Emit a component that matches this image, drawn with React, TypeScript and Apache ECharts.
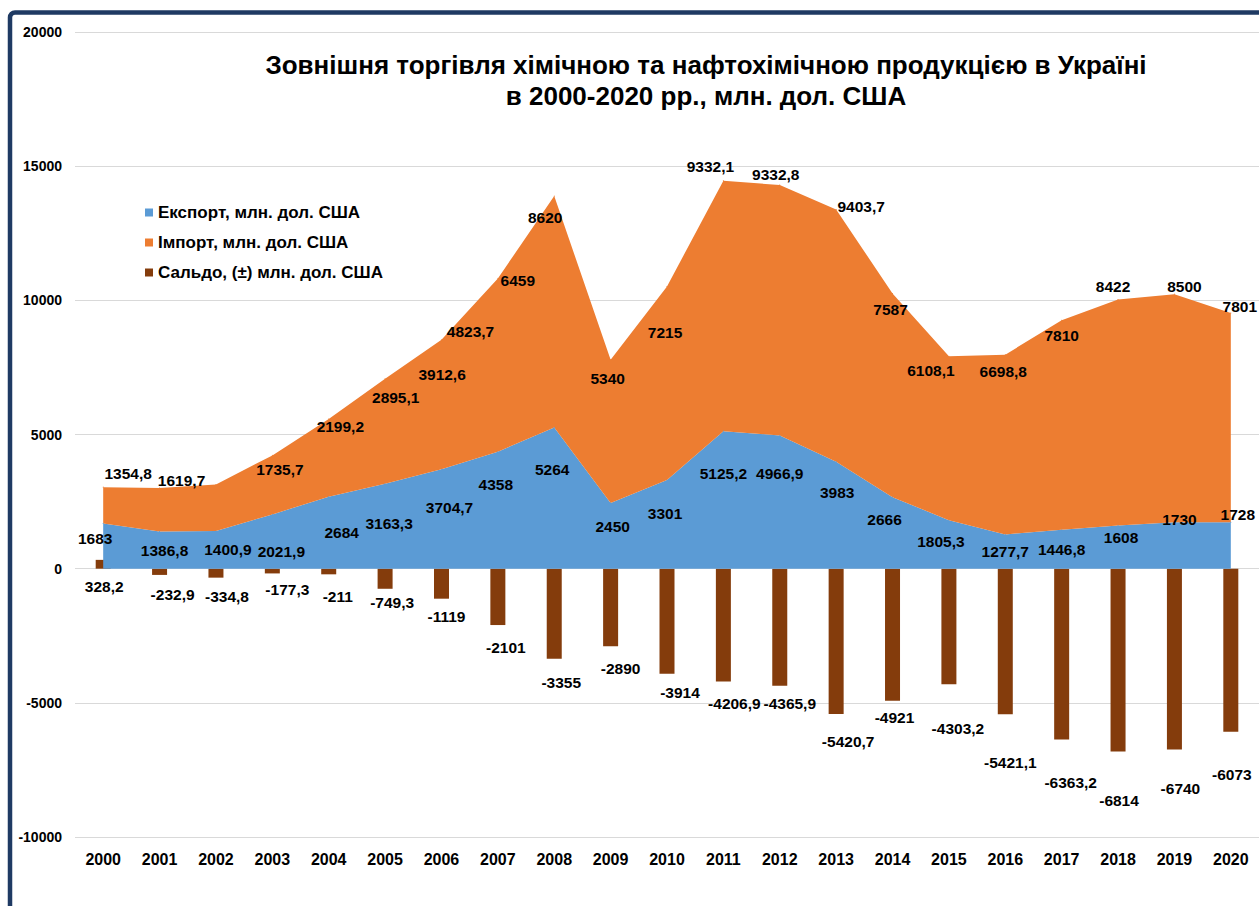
import React, { useEffect, useRef } from "react";
import * as echarts from "echarts";

// ---- data ----
const years = ["2000", "2001", "2002", "2003", "2004", "2005", "2006", "2007", "2008", "2009", "2010",
  "2011", "2012", "2013", "2014", "2015", "2016", "2017", "2018", "2019", "2020"];
const exportVals = [1683, 1386.8, 1400.9, 2021.9, 2684, 3163.3, 3704.7, 4358, 5264, 2450, 3301,
  5125.2, 4966.9, 3983, 2666, 1805.3, 1277.7, 1446.8, 1608, 1730, 1728];
const importVals = [1354.8, 1619.7, 1735.7, 2199.2, 2895.1, 3912.6, 4823.7, 6459, 8620, 5340, 7215,
  9332.1, 9332.8, 9403.7, 7587, 6108.1, 6698.8, 7810, 8422, 8500, 7801];
const saldoVals = [328.2, -232.9, -334.8, -177.3, -211, -749.3, -1119, -2101, -3355, -2890, -3914,
  -4206.9, -4365.9, -5420.7, -4921, -4303.2, -5421.1, -6363.2, -6814, -6740, -6073];
const seriesNames = ["Експорт, млн. дол. США", "Імпорт, млн. дол. США", "Сальдо, (±) млн. дол. США"];
const titleLines = [
  "Зовнішня торгівля хімічною та нафтохімічною продукцією в Україні",
  "в 2000-2020 рр., млн. дол. США",
];
const yMin = -10000;
const yMax = 20000;
const yStep = 5000;

// ---- label placement (as placed by hand in the original) ----
const exportShift = [[-8, 15], [5, 19], [12, 18], [9, 37], [13, 36], [4, 40], [8, 38], [-2, 33], [-2, 42], [2, 24], [-2, 33],
  [0, 42], [0, 38], [1, 31], [-8, 22], [-8, 21], [0, 17], [0, 20], [3, 12], [5, -3], [7, -8]];
const importShift = [[25, -14], [22, -7], [64, -15], [68, -29], [67, -21], [57, -4], [29, -8], [20, 2], [-9, 21], [-3, 19], [-2, 46],
  [-13, -14], [-4, -10], [25, -3], [-2, 16], [-18, 14], [-2, 17], [0, 15], [-5, -13], [10, -8], [9, -6]];
const saldoShift = [[1, 10], [13, 12], [11, 11], [15, 8], [9, 14], [7, 6], [5, 10], [8, 14], [7, 16], [10, 14], [13, 11],
  [11, 14], [10, 10], [12, 19], [2, 9], [9, 36], [5, 40], [9, 35], [1, 41], [6, 31], [1, 35]];

const COLORS = ["#5B9BD5", "#ED7D31", "#843C0C"];
const FONT = "'Liberation Sans', Arial, sans-serif";

const fmt = (p: any) => String(p.value).replace(".", ",");

export default function App() {
  const ref = useRef<HTMLDivElement>(null);
  useEffect(() => {
    if (!ref.current) return;
    const chart = echarts.init(ref.current, undefined, { renderer: "svg" });
    const labelBase = {
      show: true,
      color: "#000",
      fontSize: 15.5,
      fontWeight: "bold" as const,
      fontFamily: FONT,
      formatter: fmt,
    };
    const titleStyle = {
      textAlign: "center",
      textVerticalAlign: "middle",
      fontSize: 26,
      fontWeight: "bold",
      fontFamily: FONT,
      fill: "#000",
    };
    chart.setOption({
      animation: false,
      backgroundColor: "#fff",
      textStyle: { fontFamily: FONT },
      graphic: [
        {
          type: "rect",
          shape: { x: 10, y: 12.5, width: 1320, height: 1000, r: 5 },
          style: { fill: "none", stroke: "#1F3A63", lineWidth: 4.5 },
          silent: true,
          z: 100,
        },
        { type: "text", x: 706, y: 65, style: { ...titleStyle, text: titleLines[0] } },
        { type: "text", x: 706, y: 96, style: { ...titleStyle, text: titleLines[1] } },
      ],
      legend: {
        orient: "vertical",
        left: 140,
        top: 199,
        itemWidth: 8,
        itemHeight: 8,
        itemGap: 13,
        textStyle: { fontSize: 17, fontWeight: "bold", color: "#000", fontFamily: FONT },
        data: seriesNames.map((n, i) => ({ name: n, icon: "rect", itemStyle: { color: COLORS[i] } })),
      },
      grid: { left: 75, top: 32, width: 1184.4, height: 805 },
      xAxis: {
        type: "category",
        data: years,
        boundaryGap: true,
        axisLine: { show: false, onZero: false },
        axisTick: { show: false },
        axisLabel: { color: "#000", fontSize: 16, fontWeight: "bold", fontFamily: FONT, margin: 14 },
      },
      yAxis: {
        type: "value",
        min: yMin,
        max: yMax,
        interval: yStep,
        axisLine: { show: false },
        axisTick: { show: false },
        axisLabel: {
          color: "#000",
          fontSize: 14,
          fontWeight: "bold",
          fontFamily: FONT,
          margin: 13,
          formatter: (v: number) => String(v),
        },
        splitLine: { lineStyle: { color: "#d9d9d9", width: 1 } },
      },
      series: [
        {
          name: seriesNames[0],
          type: "line",
          stack: "trade",
          symbol: "circle",
          symbolSize: 1,
          itemStyle: { color: COLORS[0] },
          lineStyle: { width: 0, color: COLORS[0] },
          areaStyle: { color: COLORS[0], opacity: 1 },
          label: { ...labelBase, position: "inside" },
          data: exportVals.map((v, i) => ({ value: v, label: { offset: exportShift[i] } })),
        },
        {
          name: seriesNames[1],
          type: "line",
          stack: "trade",
          symbol: "circle",
          symbolSize: 1,
          itemStyle: { color: COLORS[1] },
          lineStyle: { width: 0, color: COLORS[1] },
          areaStyle: { color: COLORS[1], opacity: 1 },
          label: { ...labelBase, position: "inside" },
          data: importVals.map((v, i) => ({ value: v, label: { offset: importShift[i] } })),
        },
        {
          name: seriesNames[2],
          type: "bar",
          barWidth: 15,
          itemStyle: { color: COLORS[2] },
          label: { ...labelBase, position: "bottom", distance: 0 },
          data: saldoVals.map((v, i) => ({ value: v, label: { offset: saldoShift[i] } })),
        },
      ],
    });
    return () => chart.dispose();
  }, []);
  return (
    <div
      ref={ref}
      style={{ position: "absolute", left: 0, top: 0, width: "1259px", height: "906px" }}
    />
  );
}
